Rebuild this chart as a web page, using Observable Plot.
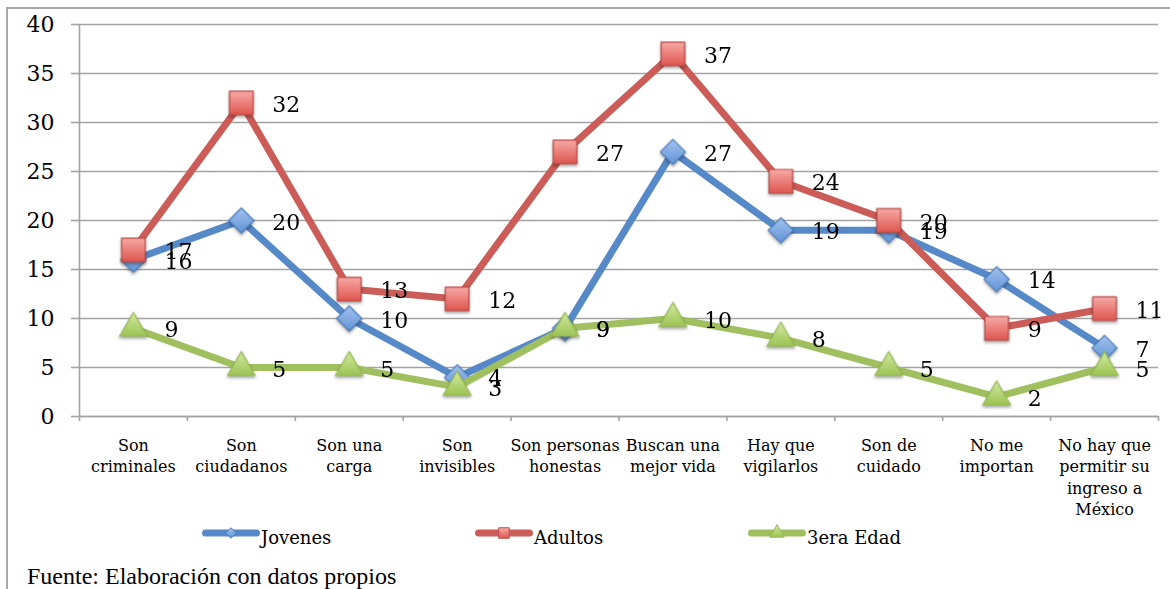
<!DOCTYPE html>
<html><head><meta charset="utf-8">
<script src="https://cdn.jsdelivr.net/npm/d3@7"></script>
<script src="https://cdn.jsdelivr.net/npm/@observablehq/plot@0.6"></script>
<style>
html,body{margin:0;padding:0;background:#fff;width:1170px;height:589px;overflow:hidden;position:relative}
#frame{position:absolute;left:6px;top:7px;width:1200px;height:600px;border-left:2px solid #a8a8a8;border-top:2px solid #a8a8a8}
#chart{position:absolute;left:0;top:0}
.leg-sw{position:absolute;top:526px}
.leg-tx{position:absolute;top:529px;font:18px/18px "DejaVu Serif",serif;color:#000;white-space:nowrap}
#caption{position:absolute;left:27px;top:564px;font:24px/24px "Liberation Serif","Times New Roman",serif;color:#000;white-space:nowrap}
</style></head><body>
<div id="frame"></div>
<div id="chart"></div>
<div id="legend"></div>
<div id="caption">Fuente: Elaboración con datos propios</div>
<script>
const categories = [
  "Son\ncriminales", "Son\nciudadanos", "Son una\ncarga", "Son\ninvisibles",
  "Son personas\nhonestas", "Buscan una\nmejor vida", "Hay que\nvigilarlos",
  "Son de\ncuidado", "No me\nimportan", "No hay que\npermitir su\ningreso a\nMéxico"
];
const seriesNames = ["Jovenes", "Adultos", "3era Edad"];
const jovenes = [16, 20, 10, 4, 9, 27, 19, 19, 14, 7];
const adultos = [17, 32, 13, 12, 27, 37, 24, 20, 9, 11];
const tercera = [9, 5, 5, 3, 9, 10, 8, 5, 2, 5];
const yTicks = [0, 5, 10, 15, 20, 25, 30, 35, 40];

const seriesValues = [jovenes, adultos, tercera];
const styles = [
  {line: "#5689c8", stroke: "#4a7ebb", top: "#a6c3ee", bottom: "#5f93d8", symbol: "diamond2", r: 11.3, d3sym: d3.symbolDiamond2, lsize: 70},
  {line: "#cc5c57", stroke: "#be4b48", top: "#f6aaa6", bottom: "#e0554f", symbol: "square", r: 13.3, d3sym: d3.symbolSquare, lsize: 110},
  {line: "#a0c060", stroke: "#98b954", top: "#d3eaa2", bottom: "#9cc453", symbol: "triangle", r: 10.2, d3sym: d3.symbolTriangle, lsize: 90}
];

const rows = seriesValues.map((vals, k) =>
  categories.map((c, i) => ({serie: seriesNames[k], cat: c, pos: i + 0.5, value: vals[i]}))
);

const marks = [
  Plot.gridY(yTicks, {stroke: "#a3a3a3", strokeOpacity: 1, strokeWidth: 1.6}),
  Plot.axisY(yTicks, {tickSize: 8, tickPadding: 17, fontSize: 22, stroke: "#a3a3a3", strokeWidth: 1.6, fill: "#000", label: null, tickFormat: d => String(d)}),
  Plot.axisX(d3.range(0, categories.length + 1), {tickSize: 5, stroke: "#a3a3a3", strokeWidth: 1.6, tickFormat: () => "", label: null}),
  Plot.ruleX([0], {stroke: "#a3a3a3", strokeWidth: 1.6}),
  Plot.ruleY([0], {stroke: "#a3a3a3", strokeWidth: 1.6}),
  Plot.text(categories, {x: (d, i) => i + 0.5, frameAnchor: "bottom", text: d => d, lineAnchor: "top", dy: 19, fontSize: 16, lineHeight: 1.34, fill: "#000"})
];
rows.forEach((r, k) => {
  const s = styles[k];
  marks.push(Plot.line(r, {x: "pos", y: "value", stroke: s.line, strokeWidth: 7, strokeLinejoin: "round", strokeLinecap: "round"}));
  marks.push(Plot.dot(r, {x: "pos", y: "value", symbol: s.symbol, r: s.r, fill: `url(#grad${k})`, stroke: s.stroke, strokeWidth: 1.2, imageFilter: "drop-shadow(0px 2px 1.5px rgba(0,0,0,0.35))"}));
});
rows.forEach((r) => {
  marks.push(Plot.text(r, {x: "pos", y: "value", text: d => String(d.value), dx: 31, dy: 2, textAnchor: "start", fontSize: 22, fill: "#000"}));
});

const chart = Plot.plot({
  width: 1170, height: 520,
  marginLeft: 79, marginRight: 12, marginTop: 24, marginBottom: 104,
  style: {fontFamily: "'DejaVu Serif', serif", color: "#000", background: "transparent", overflow: "visible"},
  x: {type: "linear", domain: [0, categories.length], axis: null},
  y: {domain: [0, 40], axis: null},
  marks
});

const defs = d3.select(chart).insert("defs", ":first-child");
styles.forEach((s, k) => {
  const g = defs.append("linearGradient").attr("id", `grad${k}`).attr("x1", 0).attr("y1", 0).attr("x2", 0).attr("y2", 1);
  g.append("stop").attr("offset", "0%").attr("stop-color", s.top);
  g.append("stop").attr("offset", "100%").attr("stop-color", s.bottom);
});
document.getElementById("chart").appendChild(chart);

// Legend
const legend = d3.select("#legend");
seriesNames.forEach((name, k) => {
  const s = styles[k];
  const left = 202 + k * 273;
  const sw = legend.append("svg").attr("class", "leg-sw").attr("width", 58).attr("height", 14).style("left", left + "px").style("overflow", "visible");
  const lg = sw.append("defs").append("linearGradient").attr("id", `lgrad${k}`).attr("x1", 0).attr("y1", 0).attr("x2", 0).attr("y2", 1);
  lg.append("stop").attr("offset", "0%").attr("stop-color", s.top);
  lg.append("stop").attr("offset", "100%").attr("stop-color", s.bottom);
  sw.append("line").attr("x1", 3.5).attr("x2", 54.5).attr("y1", 7).attr("y2", 7)
    .attr("stroke", s.line).attr("stroke-width", 7).attr("stroke-linecap", "round");
  sw.append("path").attr("d", d3.symbol(s.d3sym, s.lsize)()).attr("transform", "translate(29,7)")
    .attr("fill", `url(#lgrad${k})`).attr("stroke", s.stroke).attr("stroke-width", 1);
  legend.append("div").attr("class", "leg-tx").style("left", (left + 59) + "px").text(name);
});
</script>
</body></html>
